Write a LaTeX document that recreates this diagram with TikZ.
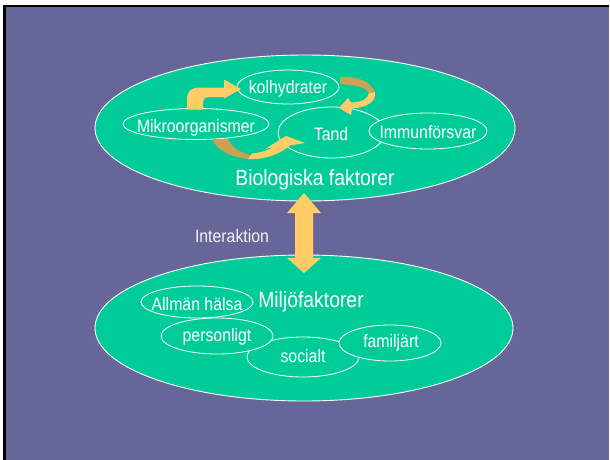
\documentclass[tikz,border=0pt]{standalone}
\usepackage{fontspec}
\setmainfont{Liberation Sans}
\newfontfamily\narrowsans[FakeStretch=0.88]{Liberation Sans}
\usetikzlibrary{shapes.geometric}
\definecolor{bgpurple}{HTML}{666699}
\definecolor{leaf}{HTML}{00CC99}
\definecolor{amber}{HTML}{FFCC66}
\definecolor{tanback}{HTML}{CCA055}
\tikzset{
  bigoval/.style={ellipse, draw=white, line width=0.9pt, fill=leaf, inner sep=0pt},
  oval/.style={ellipse, draw=white, line width=0.8pt, fill=leaf, inner sep=0pt},
  lbl/.style={text=white, font=\narrowsans\fontsize{18}{20}\selectfont, anchor=base, inner sep=0pt},
  biglbl/.style={text=white, font=\narrowsans\fontsize{22}{24}\selectfont, anchor=base, inner sep=0pt},
  sidelbl/.style={text=white!92!bgpurple, font=\narrowsans\fontsize{18}{20}\selectfont, anchor=base, inner sep=0pt}
}
\begin{document}
\begin{tikzpicture}[x=1pt,y=-1pt]
\useasboundingbox (0,0) rectangle (610,460);
\fill[white] (0,0) rectangle (610,460);
\fill[black] (3,5) rectangle (609,460);
\fill[bgpurple] (6,7.5) rectangle (609,460);

% big ellipses
\node[bigoval, minimum width=420, minimum height=146] (bioE) at (305,128) {};
\node[bigoval, minimum width=418, minimum height=146] (miljE) at (304,328) {};

% top inner ellipses
\node[oval, minimum width=102, minimum height=34] (kolhE) at (288,87) {};
\node[oval, minimum width=146, minimum height=31] (mikroE) at (196,124) {};
\node[oval, minimum width=107, minimum height=51] (tandE) at (331.5,132.5) {};
\node[oval, minimum width=118, minimum height=36] (immunE) at (428,131) {};

% bottom inner ellipses
\node[oval, minimum width=112, minimum height=40] (socialE) at (303,357) {};
\node[oval, minimum width=112, minimum height=32] (allmanE) at (197,302) {};
\node[oval, minimum width=112, minimum height=36] (personE) at (217,336) {};
\node[oval, minimum width=102, minimum height=36] (familE) at (390,343) {};

% labels
\node[lbl] (kolh) at (288,93) {kolhydrater};
\node[lbl] (mikro) at (196,132.5) {Mikroorganismer};
\node[lbl] (tand) at (331,140) {Tand};
\node[lbl] (immun) at (428,138) {Immunförsvar};
\node[biglbl] (bio) at (315,185) {Biologiska faktorer};
\node[biglbl] (milj) at (311,307) {Miljöfaktorer};
\node[lbl] (allman) at (197,310) {Allmän hälsa};
\node[lbl] (person) at (217,341) {personligt};
\node[lbl] (social) at (303,362) {socialt};
\node[lbl] (famil) at (391,347) {familjärt};
\node[sidelbl] (inter) at (232,242) {Interaktion};

% bent arrow: Mikroorganismer -> kolhydrater
\fill[amber] (187,109.5) -- (187,98) .. controls (187,91) and (192,87.5) .. (200,87.5)
  -- (224,87.5) -- (224,79.5) -- (241,89) -- (224,98.5) -- (224,97) -- (208,97)
  .. controls (205,97) and (203,99) .. (203,102) -- (203,109.5) -- cycle;

% curved arrow: kolhydrater -> Tand
\fill[tanback] (340,77) .. controls (358,76) and (370,81) .. (375,92)
  -- (369,93) .. controls (366,88) and (358,85) .. (340,84) -- cycle;
\fill[amber] (375,92) .. controls (376,102) and (368,107) .. (352,108.5)
  -- (351,115) -- (339,108) -- (348,98) -- (351,102.5)
  .. controls (362,102) and (368,99) .. (369,93) -- cycle;

% curved arrow: Mikroorganismer -> Tand
\fill[tanback] (212,139) -- (228,139) .. controls (232,148) and (242,154) .. (255,156)
  -- (250,159) .. controls (232,158) and (216,150) .. (212,139) -- cycle;
\fill[amber] (248,159) .. controls (265,160) and (280,154) .. (290,145.5)
  -- (305,143) -- (286,136) -- (265,149) -- (273,147)
  .. controls (266,151.5) and (258,153) .. (252,153.5) -- cycle;

% Interaktion double arrow
\fill[amber] (304,193) -- (321,213) -- (313,213) -- (313,258) -- (321,258)
  -- (304,273) -- (287,258) -- (295,258) -- (295,213) -- (287,213) -- cycle;
\end{tikzpicture}
\end{document}
